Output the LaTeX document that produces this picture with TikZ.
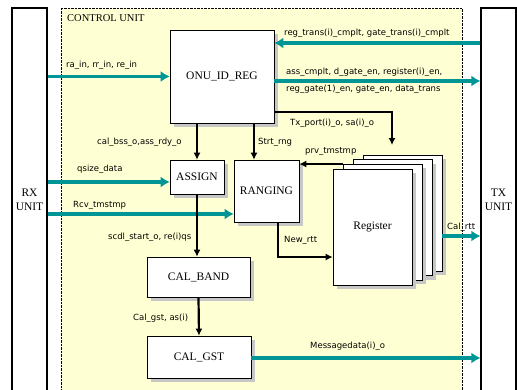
\documentclass[tikz,border=0pt]{standalone}
\usepackage{fontspec}
\setmainfont{Liberation Serif}
\newfontfamily\sigfont{DejaVu Sans}
\usepackage{tikz}
\usetikzlibrary{arrows.meta,shadows,calc}
\definecolor{cuyellow}{RGB}{255,255,212}
\definecolor{busteal}{RGB}{0,150,150}
\tikzset{
  unit/.style={draw, fill=white, line width=1.2pt, minimum width=35pt,
    minimum height=384pt, align=center, inner sep=0pt,
    font=\fontsize{11.5}{14}\selectfont},
  area/.style={draw, densely dotted, fill=cuyellow, minimum width=401pt,
    minimum height=384pt},
  blk/.style={draw, fill=white, line width=0.6pt,
    drop shadow={shadow xshift=4pt, shadow yshift=-4pt, fill=black!22, opacity=1},
    font=\fontsize{11.5}{14}\selectfont},
  page/.style={blk, minimum width=79pt, minimum height=116pt},
  sig/.style={font=\sigfont\fontsize{8.5}{10}\selectfont, anchor=west, inner sep=0pt},
  bus/.style={line width=3.5pt, draw=busteal, -{Latex[length=9pt,width=11pt]}},
  ctl/.style={line width=2.2pt, -{Latex[length=7pt,width=7pt]}},
}

\begin{document}
\begin{tikzpicture}[x=1pt, y=-1pt]
  \useasboundingbox (0,0) rectangle (517,389);
  \clip (0,0) rectangle (517,389);

  % control unit and the two outer units
  \node[area] (ctrl) at (261.5,200) {};
  \node[anchor=west, inner sep=0pt, font=\fontsize{10.5}{12}\selectfont] at (67,18) {CONTROL UNIT};
  \node[unit] (rx) at (29.5,200) {RX\\UNIT};
  \node[unit] (tx) at (498.5,200) {TX\\UNIT};

  % blocks
  \node[blk, minimum width=104pt, minimum height=93pt] (onu) at (222,76.5) {ONU\_ID\_REG};
  \node[blk, minimum width=54pt, minimum height=34pt] (assign) at (197,177) {ASSIGN};
  \node[blk, minimum width=65pt, minimum height=62pt] (rng) at (266.5,191) {RANGING};
  \node[blk, minimum width=103pt, minimum height=40pt] (band) at (198.5,277) {CAL\_BAND};
  \node[blk, minimum width=104pt, minimum height=42pt] (gst) at (199,357) {CAL\_GST};
  \foreach \k in {3,2,1}
    \node[page] (reg\k) at ({372.5+10*\k},{227-4.7*\k}) {};
  \node[page] (reg0) at (372.5,227) {Register};

  % buses
  \draw[bus] (rx.east |- onu.west) -- (onu.west);
  \draw[bus] (tx.west |- 0,43) -- (onu.east |- 0,43);
  \draw[bus] (onu.east |- 0,81) -- (tx.west |- 0,81);
  \draw[bus] (rx.east |- 0,182) -- (assign.west |- 0,182);
  \draw[bus] (rx.east |- 0,214) -- (rng.west |- 0,214);
  \draw[bus] (reg3.east |- 0,236) -- (tx.west |- 0,236);
  \draw[bus] (gst.east |- 0,358) -- (tx.west |- 0,358);

  % control lines
  \coordinate (strt) at ($(rng.north)+(-12.5,0)$);
  \coordinate (txport) at (392,145);
  \draw[ctl] (assign.north |- onu.south) -- (assign.north);
  \draw[ctl] (strt |- onu.south) -- (strt);
  \draw[ctl] (onu.east |- 0,112) -| (txport);
  \draw[ctl] (reg1.north west) -- (rng.east |- reg1.north west);
  \draw[ctl] ([xshift=11.5pt]rng.south) |- (reg0.west |- 0,257);
  \draw[ctl] (assign.south) -- (assign.south |- band.north);
  \draw[ctl] (band.south) -- (gst.north);

  % signal names
  \node[sig] at (66,65) {ra\_in, rr\_in, re\_in};
  \node[sig] at (284,33) {reg\_trans(i)\_cmplt, gate\_trans(i)\_cmplt};
  \node[sig] at (286,72) {ass\_cmplt, d\_gate\_en, register(i)\_en,};
  \node[sig] at (286,89) {reg\_gate(1)\_en, gate\_en, data\_trans};
  \node[sig] at (97,142) {cal\_bss\_o,ass\_rdy\_o};
  \node[sig] at (258,142) {Strt\_rng};
  \node[sig] at (290,123) {Tx\_port(i)\_o, sa(i)\_o};
  \node[sig] at (305,152) {prv\_tmstmp};
  \node[sig] at (77,169) {qsize\_data};
  \node[sig] at (73,205) {Rcv\_tmstmp};
  \node[sig] at (284,240) {New\_rtt};
  \node[sig] at (108,237) {scdl\_start\_o, re(i)qs};
  \node[sig] at (447,227) {Cal\_rtt};
  \node[sig] at (133,318) {Cal\_gst, as(i)};
  \node[sig] at (310,346) {Messagedata(i)\_o};
\end{tikzpicture}
\end{document}
